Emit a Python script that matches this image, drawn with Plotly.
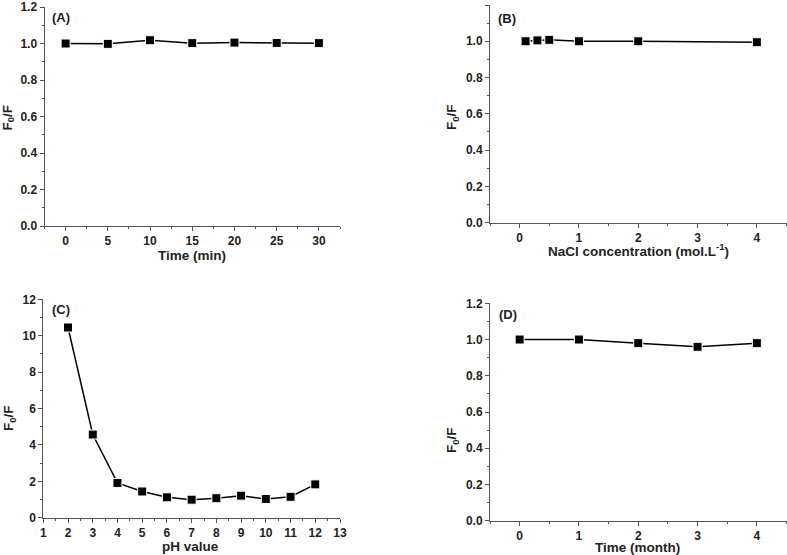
import plotly.graph_objects as go

# Data
time_min = [0, 5, 10, 15, 20, 25, 30]
ratio_time = [1.000, 0.998, 1.018, 1.002, 1.005, 1.003, 1.002]

nacl_conc = [0.1, 0.3, 0.5, 1, 2, 4]
ratio_nacl = [1.000, 1.005, 1.008, 1.000, 1.000, 0.995]

ph_values = [2, 3, 4, 5, 6, 7, 8, 9, 10, 11, 12]
ratio_ph = [10.45, 4.57, 1.91, 1.44, 1.12, 0.99, 1.07, 1.21, 1.03, 1.15, 1.83]

months = [0, 1, 2, 3, 4]
ratio_month = [1.00, 1.00, 0.98, 0.96, 0.98]

panel_labels = ["(A)", "(B)", "(C)", "(D)"]
x_titles = ["Time (min)", "NaCl concentration (mol.L<sup>-1</sup>)", "pH value", "Time (month)"]
y_title = "F<sub>0</sub>/F"

W, H = 787, 555
FONT = "Arial, Liberation Sans, sans-serif"
AXC = "#555555"
TXC = "#222222"

fig = go.Figure()

series = [(time_min, ratio_time), (nacl_conc, ratio_nacl), (ph_values, ratio_ph), (months, ratio_month)]
for i, (xs, ys) in enumerate(series):
    sfx = "" if i == 0 else str(i + 1)
    fig.add_trace(go.Scatter(
        x=xs, y=ys, mode="lines+markers", xaxis="x" + sfx, yaxis="y" + sfx,
        line=dict(color="black", width=1.5),
        marker=dict(symbol="square", size=9, color="black", line=dict(color="white", width=1)),
        showlegend=False, cliponaxis=False))

def fx(p):
    return p / W

def fy(p):
    return 1 - p / H

doms = [
    ([fx(44.5), fx(340)], [fy(226), fy(7)]),
    ([fx(490), fx(786.5)], [fy(222.7), fy(5)]),
    ([fx(43.3), fx(340)], [fy(517.7), fy(299.3)]),
    ([fx(490), fx(786.5)], [fy(520.7), fy(303.3)]),
]
xranges = [[-2.5, 32.5], [-0.5, 4.5], [1, 13], [-0.5, 4.5]]
xdt = [5, 1, 1, 1]
xminor = [2.5, 0.5, 0.5, 0.5]
yranges = [[0, 1.2], [0, 1.2], [0, 12], [0, 1.2]]
ydt = [0.2, 0.2, 2, 0.2]
yminor = [0.1, 0.1, 1, 0.1]
yfmt = [".1f", ".1f", "d", ".1f"]

# text positions in pixels (centres)
xtitle_pos = [(192, 256), (638, 250), (190, 546), (637, 547.5)]
ytitle_pos = [(7.5, 118), (452, 117), (9, 418), (452, 440)]
label_pos = [(50.5, 17), (496, 18), (50.5, 309), (497, 314)]

tickfont = dict(family=FONT, size=12, color=TXC, weight="bold")
titlefont = dict(family=FONT, size=13.5, color=TXC, weight="bold")

layout = dict(width=W, height=H, margin=dict(l=0, r=0, t=0, b=0),
              plot_bgcolor="white", paper_bgcolor="white", annotations=[])

for i in range(4):
    sfx = "" if i == 0 else str(i + 1)
    xd, yd = doms[i]
    layout["xaxis" + sfx] = dict(
        domain=xd, range=xranges[i], anchor="y" + sfx, tick0=0, dtick=xdt[i],
        showline=True, linecolor=AXC, linewidth=1, showgrid=False, zeroline=False,
        ticks="outside", ticklen=4, tickcolor=AXC, tickfont=tickfont, automargin=False,
        minor=dict(dtick=xminor[i], tick0=0, ticks="outside", ticklen=2, tickcolor=AXC))
    layout["yaxis" + sfx] = dict(
        domain=yd, range=yranges[i], anchor="x" + sfx, tick0=0, dtick=ydt[i],
        tickformat=yfmt[i], automargin=False,
        showline=True, linecolor=AXC, linewidth=1, showgrid=False, zeroline=False,
        ticks="outside", ticklen=4, tickcolor=AXC, tickfont=tickfont,
        minor=dict(dtick=yminor[i], tick0=0, ticks="outside", ticklen=2, tickcolor=AXC))
    xp, yp = xtitle_pos[i]
    layout["annotations"].append(dict(
        text=x_titles[i], xref="paper", yref="paper", x=fx(xp), y=fy(yp),
        xanchor="center", yanchor="middle", showarrow=False, font=titlefont))
    xp, yp = ytitle_pos[i]
    layout["annotations"].append(dict(
        text=y_title, xref="paper", yref="paper", x=fx(xp), y=fy(yp), textangle=-90,
        xanchor="center", yanchor="middle", showarrow=False, font=titlefont))
    xp, yp = label_pos[i]
    layout["annotations"].append(dict(
        text=panel_labels[i], xref="paper", yref="paper", x=fx(xp), y=fy(yp),
        xanchor="left", yanchor="middle", showarrow=False,
        font=dict(family=FONT, size=13, color=TXC, weight="bold")))

fig.update_layout(**layout)
fig.write_html("out.html", config={"displayModeBar": False},
               post_script="document.body.style.margin='0px';")
